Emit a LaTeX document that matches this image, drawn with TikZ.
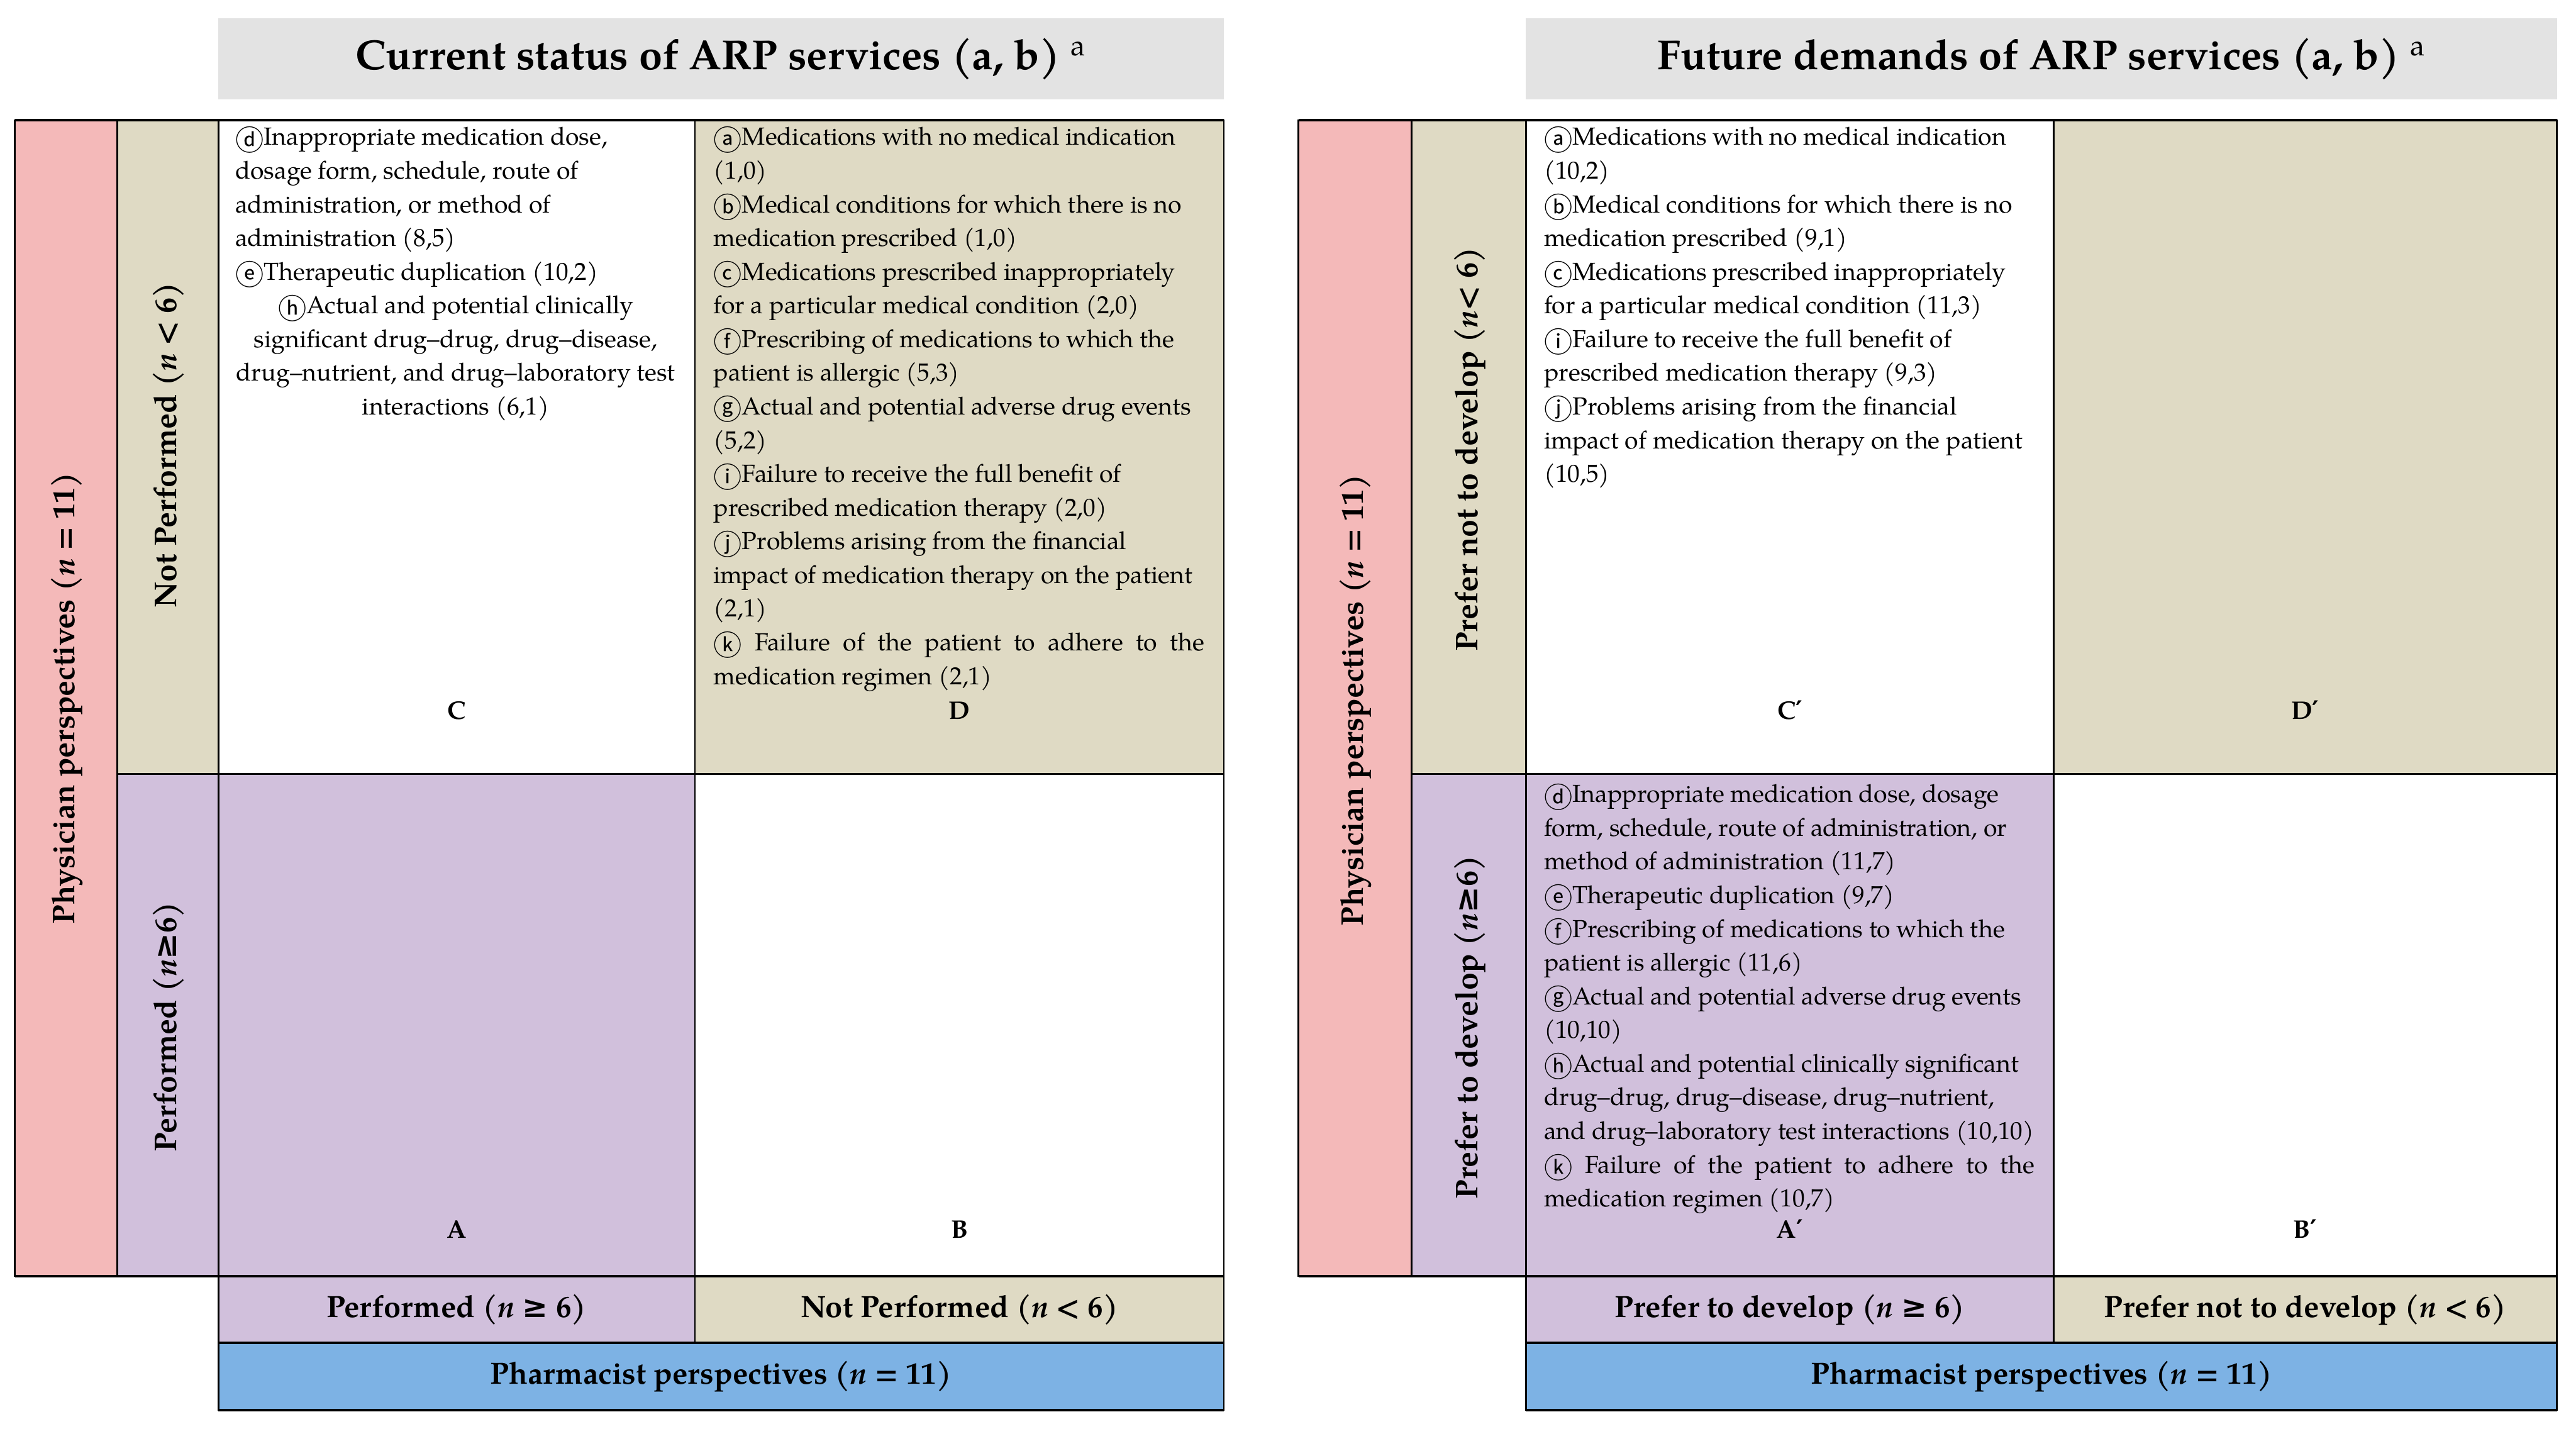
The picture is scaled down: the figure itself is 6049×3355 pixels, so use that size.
\documentclass[tikz,border=0pt]{standalone}
\usepackage{fontspec}
\setmainfont{texgyrepagella}[Extension=.otf, UprightFont=*-regular, BoldFont=*-bold, ItalicFont=*-italic, BoldItalicFont=*-bolditalic]
\newfontfamily\circfont{Noto Sans CJK KR}
\newfontfamily\symfont{DejaVu Serif}
\definecolor{pinkc}{RGB}{244,185,185}
\definecolor{beigec}{RGB}{223,218,196}
\definecolor{purplec}{RGB}{209,192,220}
\definecolor{bluec}{RGB}{125,178,228}
\definecolor{grayc}{RGB}{227,227,227}
\newcommand\ci[1]{\raisebox{-3.5pt}{\circfont\fontsize{19}{19}\selectfont #1}}
\newcommand\mygeq{{\symfont ≥}}
\newcommand\myprime{{\symfont ′}}
\newcommand\bodyfont{\fontsize{16.5}{22.5}\selectfont}
\tikzset{
  cellline/.style={draw=black, line width=1.1pt},
  thickline/.style={draw=black, line width=1.5pt},
  labtxt/.style={font=\fontsize{20.5}{25}\selectfont\bfseries, inner sep=0},
  vlab/.style={font=\fontsize{21}{25}\selectfont\bfseries, inner sep=0, rotate=90},
  ttl/.style={font=\fontsize{28}{32}\selectfont\bfseries, inner sep=0},
  letlab/.style={font=\fontsize{17}{20}\selectfont\bfseries, inner sep=0, anchor=base},
  bodytxt/.style={inner sep=0, anchor=base west},
}
\begin{document}
\begin{tikzpicture}[x=0.01cm, y=-0.01cm]
\useasboundingbox (0,0) rectangle (6049,3355);
\fill[white] (0,0) rectangle (6049,3355);
% ================= LEFT PANEL =================
\fill[grayc] (513,43) rectangle (2874,233);
\node[ttl] (tl) at (1693,138) {Current status of ARP services (a, b) \textsuperscript{\mdseries a}};
\filldraw[fill=pinkc, cellline] (35,282) rectangle (275,2996);
\filldraw[fill=beigec, cellline] (275,282) rectangle (513,1817);
\filldraw[fill=purplec, cellline] (275,1817) rectangle (513,2996);
\filldraw[fill=white, cellline] (513,282) rectangle (1632,1817);
\filldraw[fill=beigec, cellline] (1632,282) rectangle (2874,1817);
\filldraw[fill=purplec, cellline] (513,1817) rectangle (1632,2996);
\filldraw[fill=white, cellline] (1632,1817) rectangle (2874,2996);
\filldraw[fill=purplec, cellline] (513,2996) rectangle (1632,3153);
\filldraw[fill=beigec, cellline] (1632,2996) rectangle (2874,3153);
\filldraw[fill=bluec, cellline] (513,3153) rectangle (2874,3311);
\draw[thickline] (35,282) -- (2874,282);
\draw[thickline] (35,2996) -- (2874,2996);
\draw[thickline] (513,3153) -- (2874,3153);
\draw[thickline] (513,3311) -- (2874,3311);
\node[vlab] (physL) at (157,1639) {Physician perspectives (\textit{n} = 11)};
\node[vlab] (npL) at (396,1045) {Not Performed (\textit{n} < 6)};
\node[vlab] (pL) at (396,2411) {Performed (\textit{n}\mygeq6)};
\node[labtxt] (bpL) at (1072,3075) {Performed (\textit{n} \mygeq{} 6)};
\node[labtxt] (bnpL) at (2253,3075) {Not Performed (\textit{n} < 6)};
\node[labtxt] (pharmL) at (1693,3232) {Pharmacist perspectives (\textit{n} = 11)};
\node[bodytxt] (txtC) at (552,341) {\parbox[t]{10.34cm}{\bodyfont\raggedright
\ci{ⓓ}Inappropriate medication dose,\\
dosage form, schedule, route of\\
administration, or method of\\
administration (8,5)\\
\ci{ⓔ}Therapeutic duplication (10,2)\par
\centering
\ci{ⓗ}Actual and potential clinically\\
significant drug–drug, drug–disease,\\
drug–nutrient, and drug–laboratory test\\
interactions (6,1)\par}};
\node[bodytxt] (txtD) at (1675,341) {\parbox[t]{11.52cm}{\bodyfont\raggedright
\ci{ⓐ}Medications with no medical indication\\
(1,0)\\
\ci{ⓑ}Medical conditions for which there is no\\
medication prescribed (1,0)\\
\ci{ⓒ}Medications prescribed inappropriately\\
for a particular medical condition (2,0)\\
\ci{ⓕ}Prescribing of medications to which the\\
patient is allergic (5,3)\\
\ci{ⓖ}Actual and potential adverse drug events\\
(5,2)\\
\ci{ⓘ}Failure to receive the full benefit of\\
prescribed medication therapy (2,0)\\
\ci{ⓙ}Problems arising from the financial\\
impact of medication therapy on the patient\\
(2,1)\\
\makebox[\linewidth][s]{\ci{ⓚ} Failure of the patient to adhere to the}\\
medication regimen (2,1)\par}};
\node[letlab] (labC) at (1072,1688) {C};
\node[letlab] (labD) at (2253,1688) {D};
\node[letlab] (labA) at (1072,2907) {A};
\node[letlab] (labB) at (2253,2907) {B};
% ================= RIGHT PANEL =================
\fill[grayc] (3583,43) rectangle (6004,233);
\node[ttl] (tr) at (4794,138) {Future demands of ARP services (a, b) \textsuperscript{\mdseries a}};
\filldraw[fill=pinkc, cellline] (3049,282) rectangle (3315,2996);
\filldraw[fill=beigec, cellline] (3315,282) rectangle (3583,1817);
\filldraw[fill=purplec, cellline] (3315,1817) rectangle (3583,2996);
\filldraw[fill=white, cellline] (3583,282) rectangle (4822,1817);
\filldraw[fill=beigec, cellline] (4822,282) rectangle (6004,1817);
\filldraw[fill=purplec, cellline] (3583,1817) rectangle (4822,2996);
\filldraw[fill=white, cellline] (4822,1817) rectangle (6004,2996);
\filldraw[fill=purplec, cellline] (3583,2996) rectangle (4822,3153);
\filldraw[fill=beigec, cellline] (4822,2996) rectangle (6004,3153);
\filldraw[fill=bluec, cellline] (3583,3153) rectangle (6004,3311);
\draw[thickline] (3049,282) -- (6004,282);
\draw[thickline] (3049,2996) -- (6004,2996);
\draw[thickline] (3583,3153) -- (6004,3153);
\draw[thickline] (3583,3311) -- (6004,3311);
\node[vlab] (physR) at (3183,1644) {Physician perspectives (\textit{n} = 11)};
\node[vlab] (npR) at (3451,1055) {Prefer not to develop (\textit{n}< 6)};
\node[vlab] (pR) at (3451,2412) {Prefer to develop (\textit{n}\mygeq6)};
\node[labtxt] (bpR) at (4203,3075) {Prefer to develop (\textit{n} \mygeq{} 6)};
\node[labtxt] (bnpR) at (5413,3075) {Prefer not to develop (\textit{n} < 6)};
\node[labtxt] (pharmR) at (4794,3232) {Pharmacist perspectives (\textit{n} = 11)};
\node[bodytxt] (txtCp) at (3625,341) {\parbox[t]{11.52cm}{\bodyfont\raggedright
\ci{ⓐ}Medications with no medical indication\\
(10,2)\\
\ci{ⓑ}Medical conditions for which there is no\\
medication prescribed (9,1)\\
\ci{ⓒ}Medications prescribed inappropriately\\
for a particular medical condition (11,3)\\
\ci{ⓘ}Failure to receive the full benefit of\\
prescribed medication therapy (9,3)\\
\ci{ⓙ}Problems arising from the financial\\
impact of medication therapy on the patient\\
(10,5)\par}};
\node[bodytxt] (txtAp) at (3625,1884) {\parbox[t]{11.52cm}{\bodyfont\raggedright
\ci{ⓓ}Inappropriate medication dose, dosage\\
form, schedule, route of administration, or\\
method of administration (11,7)\\
\ci{ⓔ}Therapeutic duplication (9,7)\\
\ci{ⓕ}Prescribing of medications to which the\\
patient is allergic (11,6)\\
\ci{ⓖ}Actual and potential adverse drug events\\
(10,10)\\
\ci{ⓗ}Actual and potential clinically significant\\
drug–drug, drug–disease, drug–nutrient,\\
and drug–laboratory test interactions (10,10)\\
\makebox[\linewidth][s]{\ci{ⓚ} Failure of the patient to adhere to the}\\
medication regimen (10,7)\par}};
\node[letlab] (labCp) at (4203,1688) {C\myprime};
\node[letlab] (labDp) at (5413,1688) {D\myprime};
\node[letlab] (labAp) at (4203,2907) {A\myprime};
\node[letlab] (labBp) at (5413,2907) {B\myprime};
\end{tikzpicture}
\end{document}
